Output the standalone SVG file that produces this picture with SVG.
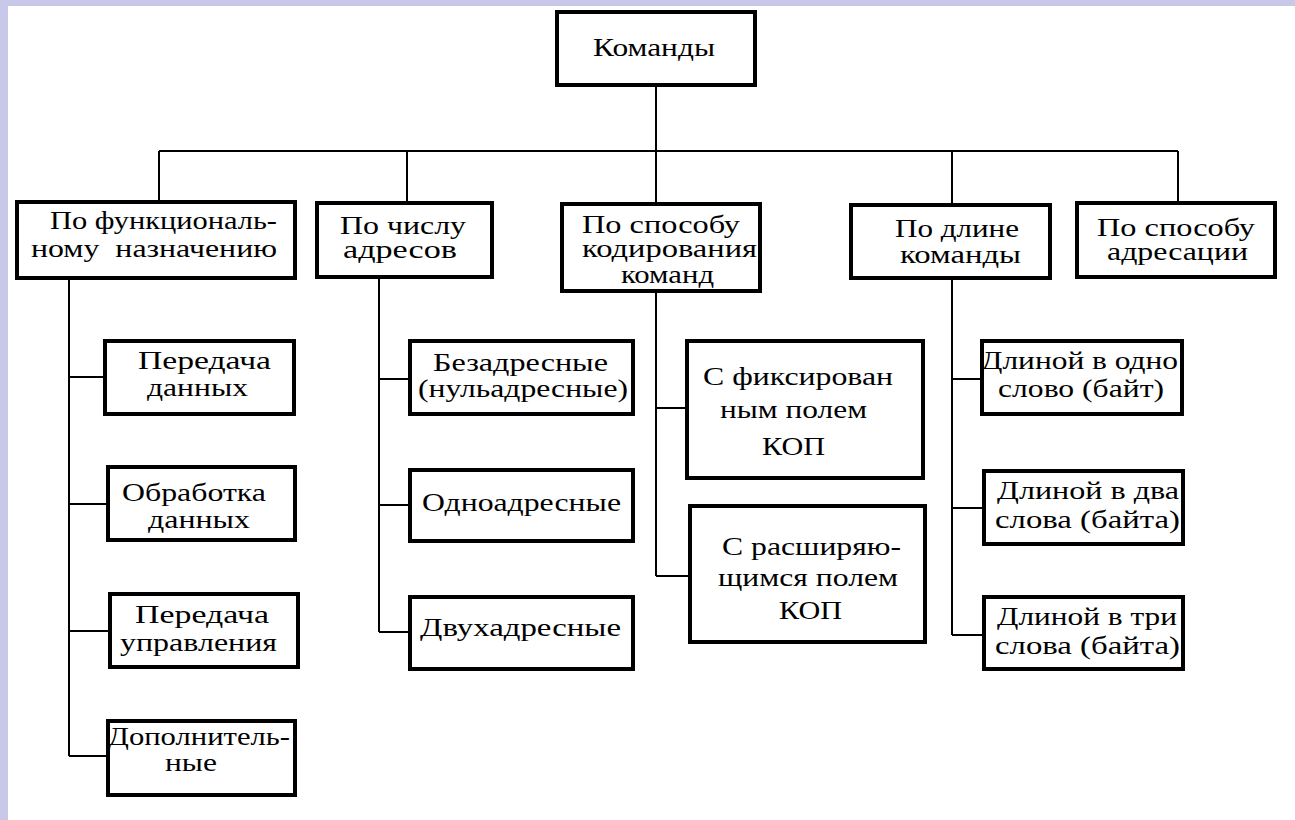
<svg xmlns="http://www.w3.org/2000/svg" width="1295" height="820" viewBox="0 0 1295 820">
<style>
.bx{fill:#fff;stroke:#000;stroke-width:4}
.ln{fill:none;stroke:#000;stroke-width:2}
text{font-family:"Liberation Serif","Times New Roman",serif;font-size:26px;fill:#000;white-space:pre}
</style>
<rect x="0" y="0" width="1295" height="820" fill="#fff"/>
<rect x="0" y="0" width="1295" height="6" fill="#c8c8e8"/>
<rect x="0" y="0" width="8" height="820" fill="#c8c8e8"/>
<g id="connectors">
<path class="ln" d="M656 87V151M159 151H1178M159 151V200M407 151V201M656 151V202M952 151V203M1178 151V201"/>
<path class="ln" d="M69 280V756M69 377H103M69 504H106M69 631H108M69 756H106"/>
<path class="ln" d="M379 279V632M379 379H408M379 505H408M379 632H408"/>
<path class="ln" d="M656 293V576M656 408H685M656 576H688"/>
<path class="ln" d="M952 280V635M952 379H980M952 508H982M952 635H982"/>
</g>
<g id="root"><rect class="bx" x="557" y="12" width="198" height="73"/>
<text x="593" y="56" textLength="122" lengthAdjust="spacingAndGlyphs">Команды</text></g>
<g id="n-func"><rect class="bx" x="17" y="202" width="278" height="76"/>
<text x="50" y="229" textLength="227" lengthAdjust="spacingAndGlyphs">По функциональ-</text>
<text x="31" y="257" textLength="246" lengthAdjust="spacingAndGlyphs">ному  назначению</text></g>
<g id="n-addr"><rect class="bx" x="317" y="203" width="175" height="74"/>
<text x="340" y="234" textLength="126" lengthAdjust="spacingAndGlyphs">По числу</text>
<text x="343" y="258" textLength="114" lengthAdjust="spacingAndGlyphs">адресов</text></g>
<g id="n-code"><rect class="bx" x="562" y="204" width="198" height="87"/>
<text x="582" y="233" textLength="158" lengthAdjust="spacingAndGlyphs">По способу</text>
<text x="582" y="257" textLength="175" lengthAdjust="spacingAndGlyphs">кодирования</text>
<text x="621" y="283" textLength="93" lengthAdjust="spacingAndGlyphs">команд</text></g>
<g id="n-len"><rect class="bx" x="851" y="205" width="199" height="73"/>
<text x="895" y="237" textLength="124" lengthAdjust="spacingAndGlyphs">По длине</text>
<text x="900" y="263" textLength="121" lengthAdjust="spacingAndGlyphs">команды</text></g>
<g id="n-mode"><rect class="bx" x="1077" y="203" width="198" height="74"/>
<text x="1097" y="236" textLength="158" lengthAdjust="spacingAndGlyphs">По способу</text>
<text x="1107" y="260" textLength="141" lengthAdjust="spacingAndGlyphs">адресации</text></g>
<g id="a1"><rect class="bx" x="105" y="341" width="189" height="73"/>
<text x="138" y="369" textLength="133" lengthAdjust="spacingAndGlyphs">Передача</text>
<text x="147" y="396" textLength="101" lengthAdjust="spacingAndGlyphs">данных</text></g>
<g id="a2"><rect class="bx" x="108" y="467" width="187" height="73"/>
<text x="122" y="501" textLength="144" lengthAdjust="spacingAndGlyphs">Обработка</text>
<text x="148" y="528" textLength="102" lengthAdjust="spacingAndGlyphs">данных</text></g>
<g id="a3"><rect class="bx" x="110" y="594" width="188" height="73"/>
<text x="135" y="623" textLength="134" lengthAdjust="spacingAndGlyphs">Передача</text>
<text x="120" y="651" textLength="157" lengthAdjust="spacingAndGlyphs">управления</text></g>
<g id="a4"><rect class="bx" x="108" y="721" width="187" height="74"/>
<text x="108" y="745" textLength="182" lengthAdjust="spacingAndGlyphs">Дополнитель-</text>
<text x="165" y="771" textLength="52" lengthAdjust="spacingAndGlyphs">ные</text></g>
<g id="b1"><rect class="bx" x="410" y="341" width="223" height="73"/>
<text x="433" y="371" textLength="175" lengthAdjust="spacingAndGlyphs">Безадресные</text>
<text x="418" y="397" textLength="210" lengthAdjust="spacingAndGlyphs">(нульадресные)</text></g>
<g id="b2"><rect class="bx" x="410" y="470" width="223" height="71"/>
<text x="422" y="511" textLength="199" lengthAdjust="spacingAndGlyphs">Одноадресные</text></g>
<g id="b3"><rect class="bx" x="410" y="597" width="223" height="72"/>
<text x="420" y="636" textLength="201" lengthAdjust="spacingAndGlyphs">Двухадресные</text></g>
<g id="c1"><rect class="bx" x="687" y="341" width="236" height="137"/>
<text x="703" y="385" textLength="190" lengthAdjust="spacingAndGlyphs">С фиксирован</text>
<text x="720" y="418" textLength="147" lengthAdjust="spacingAndGlyphs">ным полем</text>
<text x="762" y="455" textLength="63" lengthAdjust="spacingAndGlyphs">КОП</text></g>
<g id="c2"><rect class="bx" x="690" y="506" width="235" height="136"/>
<text x="722" y="555" textLength="179" lengthAdjust="spacingAndGlyphs">С расширяю-</text>
<text x="718" y="586" textLength="180" lengthAdjust="spacingAndGlyphs">щимся полем</text>
<text x="779" y="619" textLength="63" lengthAdjust="spacingAndGlyphs">КОП</text></g>
<g id="d1"><rect class="bx" x="982" y="341" width="200" height="73"/>
<text x="981" y="369" textLength="197" lengthAdjust="spacingAndGlyphs">Длиной в одно</text>
<text x="998" y="397" textLength="166" lengthAdjust="spacingAndGlyphs">слово (байт)</text></g>
<g id="d2"><rect class="bx" x="984" y="471" width="199" height="73"/>
<text x="997" y="499" textLength="182" lengthAdjust="spacingAndGlyphs">Длиной в два</text>
<text x="995" y="528" textLength="185" lengthAdjust="spacingAndGlyphs">слова (байта)</text></g>
<g id="d3"><rect class="bx" x="984" y="597" width="199" height="72"/>
<text x="997" y="625" textLength="180" lengthAdjust="spacingAndGlyphs">Длиной в три</text>
<text x="995" y="654" textLength="185" lengthAdjust="spacingAndGlyphs">слова (байта)</text></g>
</svg>
